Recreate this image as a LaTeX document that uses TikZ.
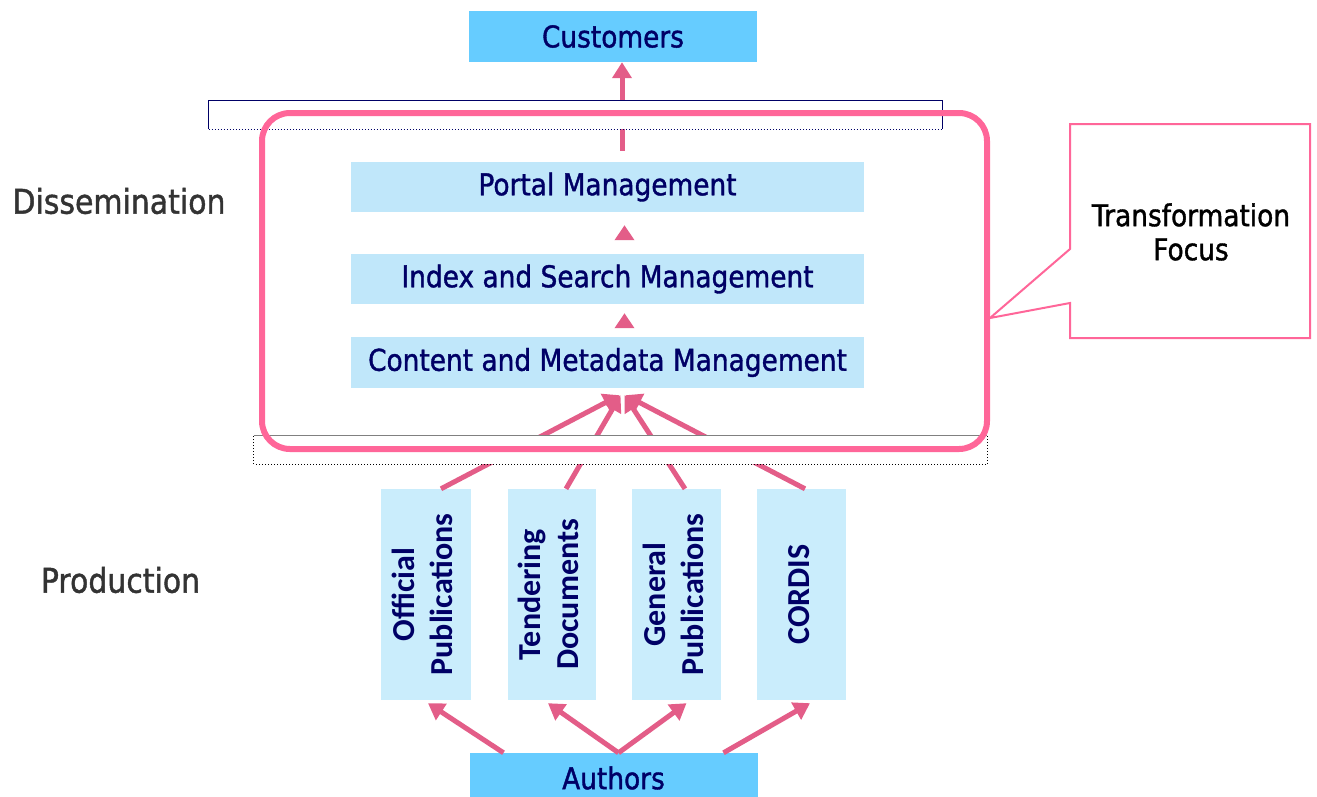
\documentclass[tikz,border=0pt]{standalone}
\usepackage{fontspec}
\usepackage{graphicx}
\setmainfont[FakeStretch=0.88,FakeBold=1.2]{DejaVu Sans}
\newfontfamily\carl{Carlito}
\usetikzlibrary{arrows.meta}
\definecolor{cust}{HTML}{66CCFF}
\definecolor{dissfill}{HTML}{C0E7FA}
\definecolor{prodfill}{HTML}{CAEDFC}
\definecolor{framepink}{HTML}{FF6699}
\definecolor{arrowpink}{HTML}{E35D88}
\definecolor{navytext}{HTML}{000066}
\definecolor{labelgray}{HTML}{333333}
\newcommand\vtxt[1]{\rotatebox{90}{\begin{tabular}{@{}c@{}}#1\end{tabular}}}
\begin{document}
\begin{tikzpicture}[x=1pt,y=-1pt,
  endbox/.style={fill=cust, minimum width=288pt, minimum height=51pt, inner sep=0pt,
    text=navytext, font=\fontsize{30}{34}\selectfont},
  dissbox/.style={fill=dissfill, minimum width=513pt, minimum height=50pt, inner sep=0pt,
    text=navytext, font=\fontsize{30}{34}\selectfont},
  prodbox/.style={fill=prodfill, minimum height=211pt, inner sep=0pt,
    text=navytext, font=\carl\bfseries\fontsize{32}{38}\selectfont},
  conn/.style={draw=arrowpink, line width=5pt, -{Triangle[length=16pt,width=19pt]}},
  smallconn/.style={draw=arrowpink, line width=5pt, -{Triangle[length=15pt,width=19pt]}},
  lbl/.style={text=labelgray, font=\fontsize{34}{40}\selectfont, inner sep=0pt},
  strip/.style={fill=white, minimum width=733pt, minimum height=28pt, inner sep=0pt},
]
\useasboundingbox (0,0) rectangle (1317,796);

% nodes (boxes)
\node[endbox] (customers) at (613,36.5) {Customers};
\node[endbox, minimum height=50pt] (authors) at (613.5,778) {Authors};
\node[dissbox] (portal) at (607.5,187) {Portal Management};
\node[dissbox] (index) at (607.5,279) {Index and Search Management};
\node[dissbox, minimum height=51pt] (content) at (607.5,362.5) {Content and Metadata Management};
\node[prodbox, minimum width=90pt] (off) at (426,594.5) {\vtxt{Official\\Publications}};
\node[prodbox, minimum width=88pt] (tend) at (552,594.5) {\vtxt{Tendering\\Documents}};
\node[prodbox, minimum width=89pt] (gen) at (676.5,594.5) {\vtxt{General\\Publications}};
\node[prodbox, minimum width=89pt] (cord) at (801.5,594.5) {\vtxt{CORDIS}};

% connectors
\draw[conn] ([xshift=14.5pt,yshift=11pt]portal.north) -- ([xshift=9pt]customers.south);
\draw[smallconn, shorten <=14pt, shorten >=13pt] ([xshift=17pt]index.north) -- ([xshift=17pt]portal.south);
\draw[smallconn, shorten <=9pt, shorten >=9pt] ([xshift=17pt]content.north) -- ([xshift=17pt]index.south);
\draw[conn] ([xshift=15pt]off.north) -- ([xshift=12pt,yshift=-7pt]content.south);
\draw[conn] ([xshift=14pt]tend.north) -- ([xshift=13pt,yshift=-7pt]content.south);
\draw[conn] ([xshift=8.5pt]gen.north) -- ([xshift=17pt,yshift=-7pt]content.south);
\draw[conn] ([xshift=3.5pt]cord.north) -- ([xshift=18pt,yshift=-7pt]content.south);
\draw[conn] ([xshift=-110pt]authors.north) -- ([xshift=2pt,yshift=-3pt]off.south);
\draw[conn] ([xshift=5pt]authors.north) -- ([xshift=-4pt,yshift=-3pt]tend.south);
\draw[conn] ([xshift=5pt]authors.north) -- ([xshift=10pt,yshift=-3pt]gen.south);
\draw[conn] ([xshift=110pt]authors.north) -- ([xshift=8.5pt,yshift=-3pt]cord.south);

% strips
\node[strip] (topstrip) at (575.5,115) {};
\draw[draw=navytext, line width=1pt] (topstrip.south west) -- (topstrip.north west) -- (topstrip.north east) -- (topstrip.south east);
\draw[draw=navytext, line width=1pt, dotted] (topstrip.south west) -- (topstrip.south east);
\node[strip] (botstrip) at (620.5,450) {};
\draw[draw=gray, line width=1pt] (botstrip.north west) -- (botstrip.north east);
\draw[draw=black, line width=1pt, dotted] (botstrip.north east) -- (botstrip.south east) -- (botstrip.south west) -- (botstrip.north west);

% frame
\node[draw=framepink, line width=6pt, rounded corners=28pt, minimum width=725pt, minimum height=336pt, inner sep=0pt] (frame) at (624.5,281) {};

% callout
\draw[draw=framepink, line width=2pt, fill=white, line join=miter]
  (1070,124) -- (1310,124) -- (1310,338) -- (1070,338) -- (1070,303) -- (990,318) -- (1070,249) -- cycle;
\node[align=center, font=\fontsize{30}{34}\selectfont, inner sep=0pt] (tf) at (1191,232) {Transformation\\Focus};

% labels
\node[lbl] (diss) at (119,201) {Dissemination};
\node[lbl] (prod) at (120.5,580) {Production};
\end{tikzpicture}
\end{document}
